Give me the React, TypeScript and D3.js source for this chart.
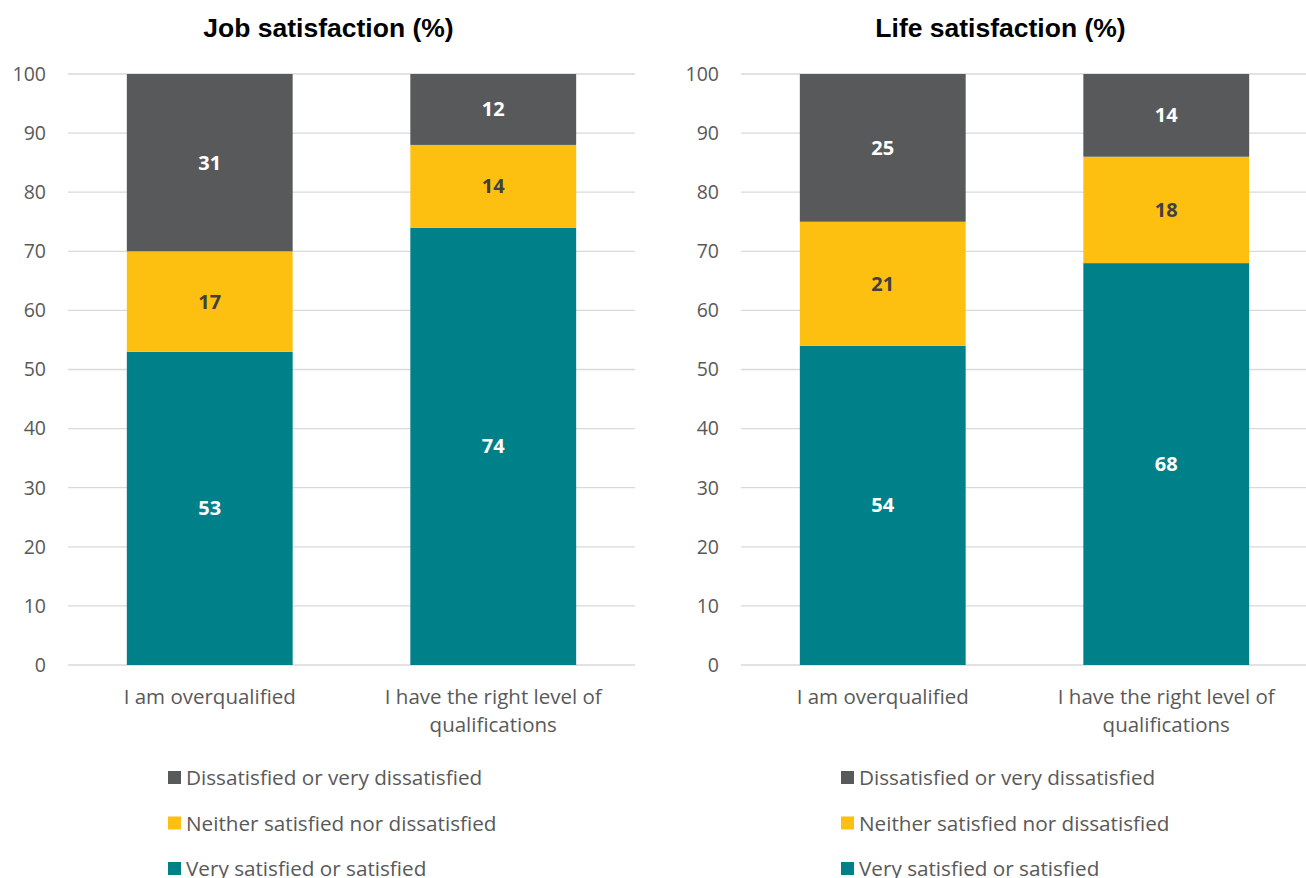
import React from "react";
import * as d3 from "d3";

const categories = ["I am overqualified", "I have the right level of qualifications"];
const seriesNames = ["Very satisfied or satisfied", "Neither satisfied nor dissatisfied", "Dissatisfied or very dissatisfied"];
const seriesColors = ["#00818a", "#fdc010", "#58595b"];
const labelColors = ["#ffffff", "#404040", "#ffffff"];
const jobSatisfied = [53, 74];
const jobNeither = [17, 14];
const jobDissatisfied = [31, 12];
const lifeSatisfied = [54, 68];
const lifeNeither = [21, 18];
const lifeDissatisfied = [25, 14];
const yTicks = [0, 10, 20, 30, 40, 50, 60, 70, 80, 90, 100];

const FONT = "'Open Sans', 'Noto Sans', sans-serif";

function wrapLabel(s: string): string[] {
  if (s.length > 24) {
    const words = s.split(" ");
    const first = words.slice(0, words.length - 1).join(" ");
    return [first, words[words.length - 1]];
  }
  return [s];
}

function Chart({ x0, title, titleX, series }: { x0: number; title: string; titleX: number; series: number[][] }) {
  const plotLeft = x0;
  const plotRight = x0 + 567;
  const y = d3.scaleLinear().domain([0, 100]).range([665, 74]).clamp(true);
  const x = d3.scaleBand<string>().domain(categories).range([plotLeft, plotRight]).paddingInner(0.415).paddingOuter(0.2075);
  const stackData = categories.map((c, i) => {
    const o: any = { cat: c };
    series.forEach((s, k) => (o["s" + k] = s[i]));
    return o;
  });
  const stack = d3.stack<any>().keys(series.map((_, k) => "s" + k))(stackData);
  return (
    <g>
      <text x={titleX} y={37} textAnchor="middle" fontFamily="'Liberation Sans', Arial, sans-serif" fontWeight="bold" fontSize={26.5} fill="#000">
        {title}
      </text>
      {yTicks.map((t) => (
        <g key={t}>
          <line x1={plotLeft} x2={plotRight} y1={y(t)} y2={y(t)} stroke="#d9d9d9" strokeWidth={1.3} />
          <text x={plotLeft - 22} y={y(t)} dy="0.35em" textAnchor="end" fontFamily={FONT} fontSize={19.5} fill="#595959">
            {t}
          </text>
        </g>
      ))}
      {stack.map((layer, k) =>
        layer.map((d, i) => {
          const bx = x(categories[i])!;
          const top = y(d[1]);
          const bot = y(d[0]);
          return (
            <g key={k + "-" + i}>
              <rect x={bx} y={top} width={x.bandwidth()} height={bot - top} fill={seriesColors[k]} />
              <text x={bx + x.bandwidth() / 2} y={(top + bot) / 2} dy="0.35em" textAnchor="middle" fontFamily={FONT} fontWeight="bold" fontSize={20} fill={labelColors[k]}>
                {series[k][i]}
              </text>
            </g>
          );
        })
      )}
      {categories.map((c) => {
        const lines = wrapLabel(c);
        return (
          <text key={c} textAnchor="middle" fontFamily={FONT} fontSize={20.5} fill="#595959">
            {lines.map((l, j) => (
              <tspan key={j} x={x(c)! + x.bandwidth() / 2} y={704 + j * 28}>
                {l}
              </tspan>
            ))}
          </text>
        );
      })}
      {[2, 1, 0].map((k, j) => (
        <g key={k}>
          <rect x={plotLeft + 100} y={771 + j * 45.5} width={13} height={13} fill={seriesColors[k]} />
          <text x={plotLeft + 118} y={778 + j * 45.5} dy="0.35em" fontFamily={FONT} fontSize={20.7} fill="#595959">
            {seriesNames[k]}
          </text>
        </g>
      ))}
    </g>
  );
}

export default function App() {
  return (
    <svg width={1306} height={878} style={{ position: "absolute", left: 0, top: 0, background: "#fff" }}>
      <rect width={1306} height={878} fill="#fff" />
      <Chart x0={68} title="Job satisfaction (%)" titleX={328.5} series={[jobSatisfied, jobNeither, jobDissatisfied]} />
      <Chart x0={741} title="Life satisfaction (%)" titleX={1000.5} series={[lifeSatisfied, lifeNeither, lifeDissatisfied]} />
    </svg>
  );
}
